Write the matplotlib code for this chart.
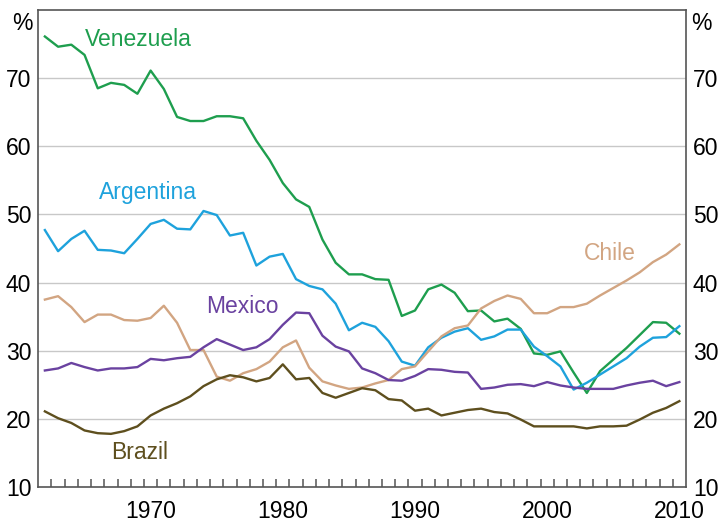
import numpy as np
import matplotlib
matplotlib.use("Agg")
import matplotlib.pyplot as plt
from matplotlib.ticker import FixedLocator

plt.rcParams["font.family"] = ["Liberation Sans", "DejaVu Sans"]

# annual data, 1962-2010 (per cent)
years = np.arange(1962, 2011)

venezuela = [76.1, 74.6, 74.9, 73.4, 68.5, 69.3, 69.0, 67.7, 71.1, 68.4,
             64.3, 63.7, 63.7, 64.4, 64.4, 64.1, 60.8, 58.0, 54.6, 52.2,
             51.1, 46.3, 42.9, 41.2, 41.2, 40.5, 40.4, 35.1, 35.9, 39.0,
             39.7, 38.5, 35.8, 35.9, 34.3, 34.7, 33.2, 29.6, 29.4, 29.9,
             26.8, 23.8, 27.0, 28.7, 30.4, 32.3, 34.2, 34.1, 32.5]
argentina = [47.7, 44.6, 46.4, 47.6, 44.8, 44.7, 44.3, 46.4, 48.6, 49.2,
             47.9, 47.8, 50.5, 49.9, 46.9, 47.3, 42.5, 43.8, 44.2, 40.5,
             39.5, 39.0, 36.9, 33.0, 34.1, 33.5, 31.4, 28.4, 27.8, 30.5,
             31.9, 32.8, 33.3, 31.6, 32.1, 33.1, 33.1, 30.6, 29.2, 27.7,
             24.3, 25.3, 26.5, 27.7, 28.9, 30.6, 31.9, 32.0, 33.6]
chile = [37.5, 38.0, 36.4, 34.2, 35.3, 35.3, 34.5, 34.4, 34.8, 36.6,
         34.1, 30.1, 30.1, 26.2, 25.6, 26.7, 27.3, 28.4, 30.5, 31.5,
         27.5, 25.5, 24.9, 24.4, 24.6, 25.2, 25.7, 27.3, 27.7, 29.9,
         32.1, 33.3, 33.7, 36.2, 37.3, 38.1, 37.6, 35.5, 35.5, 36.4,
         36.4, 36.9, 38.1, 39.2, 40.3, 41.5, 43.0, 44.1, 45.6]
mexico = [27.1, 27.4, 28.2, 27.6, 27.1, 27.4, 27.4, 27.6, 28.8, 28.6,
          28.9, 29.1, 30.5, 31.7, 30.9, 30.1, 30.5, 31.7, 33.8, 35.6,
          35.5, 32.2, 30.6, 29.9, 27.4, 26.7, 25.7, 25.6, 26.3, 27.3,
          27.2, 26.9, 26.8, 24.4, 24.6, 25.0, 25.1, 24.8, 25.4, 24.9,
          24.6, 24.4, 24.4, 24.4, 24.9, 25.3, 25.6, 24.8, 25.4]
brazil = [21.1, 20.1, 19.4, 18.3, 17.9, 17.8, 18.2, 18.9, 20.5, 21.5,
          22.3, 23.3, 24.8, 25.8, 26.4, 26.1, 25.5, 26.0, 28.0, 25.8,
          26.0, 23.8, 23.1, 23.8, 24.5, 24.2, 22.9, 22.7, 21.2, 21.5,
          20.5, 20.9, 21.3, 21.5, 21.0, 20.8, 19.9, 18.9, 18.9, 18.9,
          18.9, 18.6, 18.9, 18.9, 19.0, 19.9, 20.9, 21.6, 22.6]

series = [
    ("Venezuela", venezuela, "#1e9e4e", (1965.5, 75.6)),
    ("Argentina", argentina, "#1ea2dc", (1966.6, 53.2)),
    ("Chile", chile, "#d2a582", (2003.3, 44.3)),
    ("Mexico", mexico, "#6a42a0", (1974.7, 36.5)),
    ("Brazil", brazil, "#5e4f1e", (1967.5, 15.1)),
]

fig = plt.figure(figsize=(7.18, 5.22), dpi=100)
ax = fig.add_axes([0.0533, 0.067, 0.9021, 0.914])

# annual points sit in the middle of each year
xpos = years + 0.5
for name, vals, col, (tx, ty) in series:
    ax.plot(xpos, vals, color=col, lw=1.7, zorder=3)
    ax.text(tx, ty, name, color=col, fontsize=16.5, va="center", ha="left")

ax.set_xlim(1962, 2011)
ax.set_ylim(10, 80)

# y axis: labels both sides, no tick marks
yt = [10, 20, 30, 40, 50, 60, 70]
ax.set_yticks(yt)
ax.tick_params(axis="y", length=0, labelsize=16.5, pad=5,
               labelleft=True, labelright=True)
for y in yt[1:]:
    ax.axhline(y, color="#c8c8c8", lw=1.0, zorder=1)

# x axis: year labels centred in the year, small ticks at year boundaries
ax.xaxis.set_major_locator(FixedLocator([1970.5, 1980.5, 1990.5, 2000.5, 2010.5]))
ax.set_xticklabels(["1970", "1980", "1990", "2000", "2010"])
ax.xaxis.set_minor_locator(FixedLocator(np.arange(1963, 2011)))
ax.tick_params(axis="x", which="major", length=0, labelsize=16.5, pad=9)
ax.tick_params(axis="x", which="minor", direction="in", length=6,
               width=1.1, color="#555555")

for s in ax.spines.values():
    s.set_color("#555555")
    s.set_linewidth(1.2)

ax.text(-0.008, 0.995, "%", transform=ax.transAxes, ha="right", va="top",
        fontsize=16.5)
ax.text(1.008, 0.995, "%", transform=ax.transAxes, ha="left", va="top",
        fontsize=16.5)

fig.savefig("out.png", dpi=100)
